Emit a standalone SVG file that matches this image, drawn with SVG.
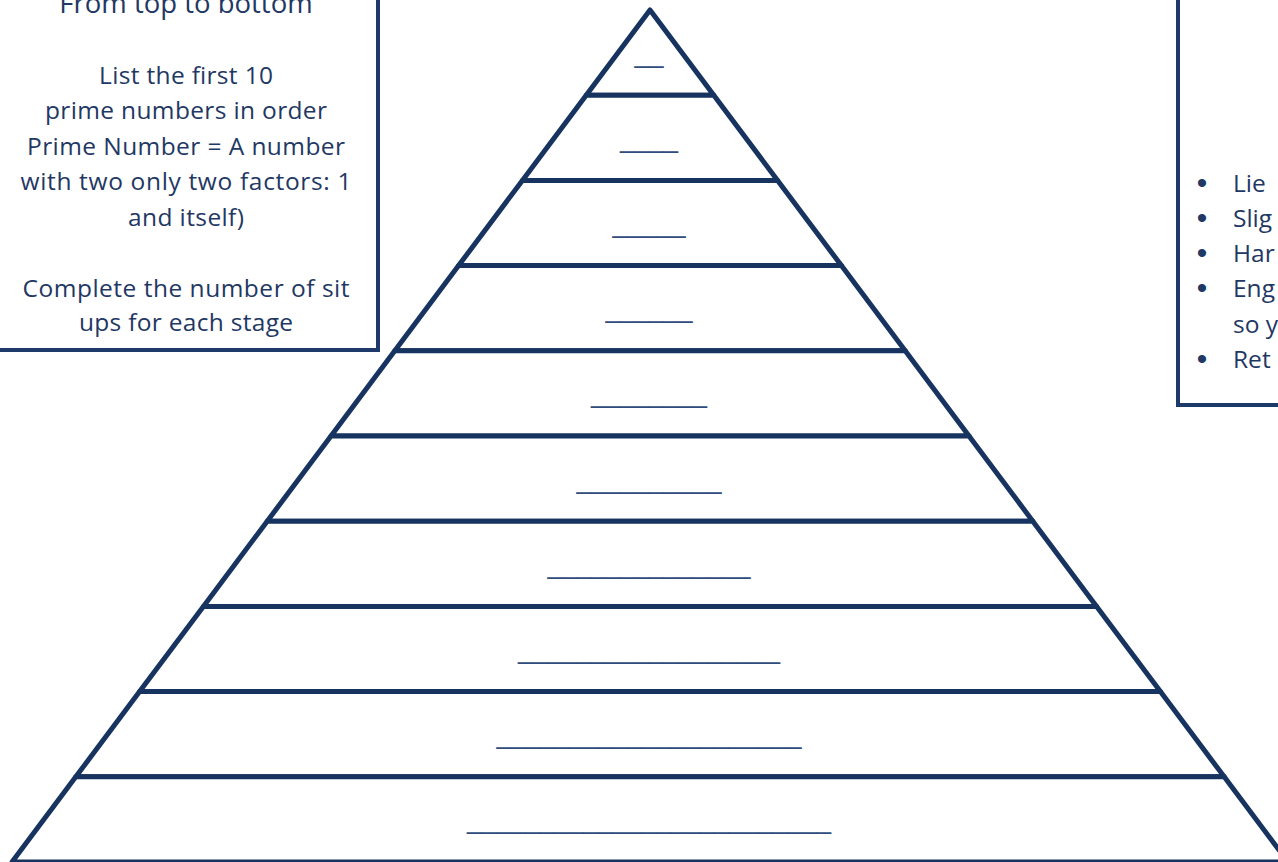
<svg xmlns="http://www.w3.org/2000/svg" width="1278" height="862" viewBox="0 0 1278 862">
<style>
.box{fill:#ffffff;stroke:#1d3a6b;stroke-width:4}
.tier{fill:#ffffff;stroke:#17335f;stroke-width:5;stroke-linejoin:round}
.t{font-family:"Open Sans","Liberation Sans",sans-serif;font-size:24.5px;fill:#1f3864}
.b{font-family:"Liberation Sans",sans-serif;font-size:30px;fill:#1f3864;text-anchor:middle}
.tc{text-anchor:middle}
.u{font-family:"Liberation Sans",sans-serif;font-size:26px;fill:#2f4c7c;text-anchor:middle}
</style>
<rect width="1278" height="862" fill="#ffffff"/>
<g id="instructions-box">
<rect class="box" x="-10" y="-10" width="388" height="360"/>
<text class="t tc" x="186" y="13" style="font-size:27.5px">From top to bottom</text>
<text class="t tc" x="186" y="84" textLength="174">List the first 10</text>
<text class="t tc" x="186" y="119" textLength="282">prime numbers in order</text>
<text class="t tc" x="186" y="155" textLength="318">Prime Number = A number</text>
<text class="t tc" x="186" y="190" textLength="331">with two only two factors: 1</text>
<text class="t tc" x="186" y="226" textLength="116">and itself)</text>
<text class="t tc" x="186" y="297" textLength="327">Complete the number of sit</text>
<text class="t tc" x="186" y="331" textLength="214">ups for each stage</text>
</g>
<g id="method-box">
<rect class="box" x="1178" y="-10" width="130" height="415"/>
<text class="b" x="1202" y="193">•</text><text class="t" x="1233" y="192">Lie</text>
<text class="b" x="1202" y="228">•</text><text class="t" x="1233" y="227">Slig</text>
<text class="b" x="1202" y="263">•</text><text class="t" x="1233" y="262">Har</text>
<text class="b" x="1202" y="298">•</text><text class="t" x="1233" y="297">Eng</text>
<text class="t" x="1233" y="333">so y</text>
<text class="b" x="1202" y="369">•</text><text class="t" x="1233" y="368">Ret</text>
</g>
<g id="pyramid">
<g id="tier-1"><polygon class="tier" points="650,10 713.8,95.2 586.2,95.2"/><text class="u" x="649" y="63" textLength="29" lengthAdjust="spacingAndGlyphs">__</text></g>
<g id="tier-2"><polygon class="tier" points="586.2,95.2 713.8,95.2 777.6,180.4 522.4,180.4"/><text class="u" x="649" y="148" textLength="58" lengthAdjust="spacingAndGlyphs">____</text></g>
<g id="tier-3"><polygon class="tier" points="522.4,180.4 777.6,180.4 841.4,265.6 458.6,265.6"/><text class="u" x="649" y="233" textLength="73" lengthAdjust="spacingAndGlyphs">_____</text></g>
<g id="tier-4"><polygon class="tier" points="458.6,265.6 841.4,265.6 905.2,350.8 394.8,350.8"/><text class="u" x="649" y="318" textLength="87" lengthAdjust="spacingAndGlyphs">______</text></g>
<g id="tier-5"><polygon class="tier" points="394.8,350.8 905.2,350.8 969,436 331,436"/><text class="u" x="649" y="403" textLength="116" lengthAdjust="spacingAndGlyphs">________</text></g>
<g id="tier-6"><polygon class="tier" points="331,436 969,436 1032.8,521.2 267.2,521.2"/><text class="u" x="649" y="489" textLength="145" lengthAdjust="spacingAndGlyphs">__________</text></g>
<g id="tier-7"><polygon class="tier" points="267.2,521.2 1032.8,521.2 1096.6,606.4 203.4,606.4"/><text class="u" x="649" y="574" textLength="203" lengthAdjust="spacingAndGlyphs">______________</text></g>
<g id="tier-8"><polygon class="tier" points="203.4,606.4 1096.6,606.4 1160.4,691.6 139.6,691.6"/><text class="u" x="649" y="659" textLength="262" lengthAdjust="spacingAndGlyphs">__________________</text></g>
<g id="tier-9"><polygon class="tier" points="139.6,691.6 1160.4,691.6 1224.2,776.8 75.8,776.8"/><text class="u" x="649" y="744" textLength="305" lengthAdjust="spacingAndGlyphs">_____________________</text></g>
<g id="tier-10"><polygon class="tier" points="75.8,776.8 1224.2,776.8 1288,862 12,862"/><text class="u" x="649" y="829" textLength="364" lengthAdjust="spacingAndGlyphs">_________________________</text></g>
</g>
<g id="connectors"/>
</svg>
